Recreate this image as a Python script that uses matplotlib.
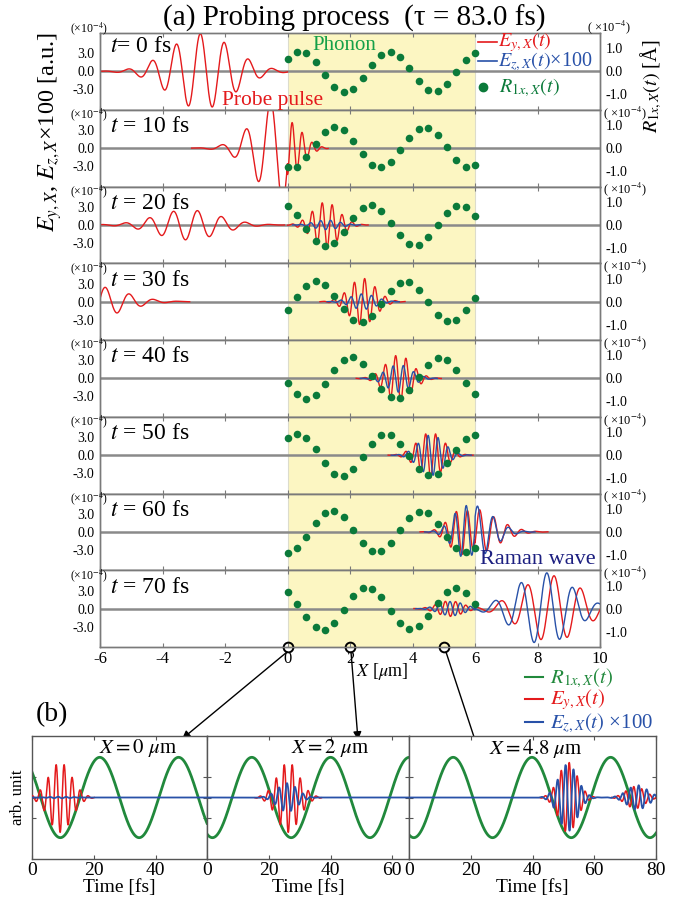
"""Probing process: probe pulse, Raman wave and phonon snapshots + local time traces."""
import numpy as np
import matplotlib

matplotlib.use("Agg")
import matplotlib.pyplot as plt
from matplotlib.lines import Line2D

plt.rcParams["font.family"] = ["Liberation Serif", "DejaVu Serif"]
plt.rcParams["mathtext.fontset"] = "stix"
plt.rcParams["axes.unicode_minus"] = False

# ---------------------------------------------------------------- data -----
T_LABELS = ["$t$= 0 fs", "$t$ = 10 fs", "$t$ = 20 fs", "$t$ = 30 fs",
            "$t$ = 40 fs", "$t$ = 50 fs", "$t$ = 60 fs", "$t$ = 70 fs"]

# phonon displacement samples (x1e-4 A) at the grid points inside the film
PHONON_X = [0.0, 0.3, 0.6, 0.9, 1.2, 1.5, 1.8, 2.1, 2.4, 2.7, 3.0,
            3.3, 3.6, 3.9, 4.2, 4.5, 4.8, 5.1, 5.4, 5.7, 6.0]
PHONON_R = [
    [0.55, 0.86, 0.81, 0.42, -0.14, -0.68, -0.88, -0.75, -0.30, 0.28, 0.70,
     0.86, 0.64, 0.13, -0.41, -0.80, -0.84, -0.54, -0.01, 0.49, 0.81],
    [-0.84, -0.80, -0.39, 0.17, 0.70, 0.91, 0.77, 0.32, -0.26, -0.72, -0.84,
     -0.62, -0.10, 0.46, 0.83, 0.86, 0.55, 0.04, -0.51, -0.80, -0.74],
    [0.80, 0.41, -0.19, -0.70, -0.91, -0.77, -0.29, 0.29, 0.72, 0.87, 0.62,
     0.10, -0.45, -0.83, -0.86, -0.54, 0.01, 0.52, 0.83, 0.77, 0.38],
    [-0.38, 0.19, 0.70, 0.91, 0.72, 0.26, -0.32, -0.78, -0.90, -0.61, -0.09,
     0.46, 0.81, 0.84, 0.52, -0.03, -0.57, -0.86, -0.78, -0.38, 0.16],
    [-0.22, -0.70, -0.91, -0.72, -0.23, 0.36, 0.80, 0.91, 0.64, 0.10, -0.45,
     -0.83, -0.84, -0.51, 0.06, 0.59, 0.87, 0.78, 0.38, -0.19, -0.67],
    [0.75, 0.94, 0.74, 0.25, -0.36, -0.80, -0.91, -0.62, -0.09, 0.49, 0.86,
     0.86, 0.49, -0.04, -0.59, -0.87, -0.80, -0.36, 0.22, 0.71, 0.88],
    [-0.91, -0.72, -0.23, 0.38, 0.83, 0.93, 0.64, 0.09, -0.48, -0.84, -0.84,
     -0.48, 0.09, 0.61, 0.88, 0.80, 0.36, -0.22, -0.68, -0.87, -0.68],
    [0.71, 0.20, -0.38, -0.81, -0.91, -0.62, -0.06, 0.54, 0.88, 0.87, 0.49,
     -0.09, -0.62, -0.90, -0.77, -0.33, 0.25, 0.71, 0.90, 0.68, 0.19],
]

# wave packets read off each snapshot:
# (x_from, x_to, centre, width, amplitude x1e-4, wavelength, crest position)
EY_PACKETS = [
    [(-6, 0, -2.75, 1.00, 6.3, 0.77, -2.79)],
    [(-6, 0, -0.10, 0.85, 9.0, 0.78, -0.55), (0, 1.3, 0.00, 0.45, 4.5, 0.32, 0.15)],
    [(-6, 0, -3.20, 1.00, 2.5, 0.77, -2.88), (0, 6, 1.22, 0.42, 3.8, 0.32, 1.11)],
    [(-6, 0, -6.25, 1.00, 2.6, 0.77, -5.83), (0, 6, 2.40, 0.42, 3.9, 0.33, 2.47)],
    [(0, 6, 3.56, 0.42, 3.9, 0.33, 3.46)],
    [(0, 6, 4.58, 0.42, 3.8, 0.32, 4.42)],
    [(0, 6, 5.60, 0.42, 3.8, 0.36, 5.76), (6, 10, 5.90, 0.75, 3.9, 0.45, 6.15)],
    [(0, 6, 5.20, 0.40, 1.3, 0.33, 5.05), (6, 10, 8.45, 0.95, 5.5, 0.85, 8.53)],
]
EZ_PACKETS = [
    [],
    [],
    [(0, 6, 1.25, 0.40, 0.8, 0.32, 1.38)],
    [(0, 6, 2.42, 0.40, 1.3, 0.33, 2.36)],
    [(0, 6, 3.56, 0.40, 2.3, 0.33, 3.38)],
    [(0, 6, 4.60, 0.40, 3.4, 0.32, 4.50)],
    [(0, 6, 5.70, 0.40, 4.4, 0.36, 5.72), (6, 10, 5.95, 0.60, 4.4, 0.50, 6.08)],
    [(0, 6, 5.25, 0.40, 1.2, 0.33, 5.20), (6, 10, 8.20, 0.90, 6.0, 0.83, 8.30)],
]

# panel (b): local time traces
PROBE_LABELS = [r"$X = 0\ \mu$m", r"$X = 2\ \mu$m", r"$X = 4.8\ \mu$m"]
PROBE_MARK_X = [0.0, 2.0, 5.0]
TIME_MAX = [56.6, 65.4, 80.0]
TIME_TICKS = [[0, 20, 40], [0, 20, 40, 60], [0, 20, 40, 60, 80]]
PHONON_PERIOD = 25.5
PHONON_CREST = [21.9, 14.5, 14.3]
# (centre, width, amplitude, period, crest) in fs
EY_TRACE = [[(9.1, 3.7, 0.85, 2.6, 7.8)],
            [(26.3, 3.6, 0.85, 2.6, 25.0)],
            [(51.5, 3.0, 0.86, 2.6, 51.9), (73.3, 3.0, 0.27, 2.6, 72.8)]]
EZ_TRACE = [[(9.1, 3.7, 0.02, 2.6, 8.4)],
            [(26.0, 3.2, 0.35, 2.6, 25.9)],
            [(51.5, 3.0, 0.82, 2.6, 50.7), (74.0, 3.3, 0.30, 2.6, 74.4)]]

# ---------------------------------------------------------------- style ----
C_RED = "#e41a1c"
C_BLUE = "#2851a8"
C_DOT = "#0b7a3a"
C_GREEN = "#21893c"
C_ZERO = "#8a8a8a"
C_SPINE = "#7a7a7a"
C_FILM = "#fcf6c2"

W, H = 688, 899


def fx(px):
    return px / W


def fy(py):
    return 1 - py / H


def packets(x, plist, floor=0.02):
    y = np.zeros_like(x)
    env = np.zeros_like(x)
    for lo, hi, c, s, a, lam, crest in plist:
        m = (x >= lo) & (x <= hi)
        e = a * np.exp(-(x - c) ** 2 / (2 * s ** 2))
        y[m] += e[m] * np.cos(2 * np.pi * (x[m] - crest) / lam)
        env[m] += e[m]
    return np.where(env > floor, y, np.nan)


def trace(t, plist):
    y = np.zeros_like(t)
    env = np.zeros_like(t)
    for c, s, a, per, crest in plist:
        e = a * np.exp(-(t - c) ** 2 / (2 * s ** 2))
        y += e * np.cos(2 * np.pi * (t - crest) / per)
        env += e
    return y, env


fig = plt.figure(figsize=(W / 100, H / 100), dpi=100)

# ------------------------------------------------------------ panel (a) ----
x = np.linspace(-6, 10, 6000)
top0, ph = 33.0, 76.75
axes_a = []
for i in range(8):
    top = top0 + i * ph
    ax = fig.add_axes([fx(100), fy(top + ph), 500 / W, ph / H])
    axes_a.append(ax)
    ax.set_xlim(-6, 10)
    ax.set_ylim(-6.4, 6.4)
    ax.axvspan(0, 6, color=C_FILM, lw=0, zorder=0)
    ax.axvline(0, color="#dcdccc", lw=0.8, zorder=0.5)
    ax.axvline(6, color="#dcdccc", lw=0.8, zorder=0.5)
    ax.axhline(0, color=C_ZERO, lw=1.8, zorder=1)
    ax.plot(x, packets(x, EY_PACKETS[i]), color=C_RED, lw=1.0, zorder=3)
    if EZ_PACKETS[i]:
        ax.plot(x, packets(x, EZ_PACKETS[i]), color=C_BLUE, lw=1.0, zorder=4)
    ax.set_xticks(np.arange(-6, 11, 2))
    ax.tick_params(axis="x", direction="in", top=True, length=3,
                   color=C_SPINE, labelsize=12, pad=3)
    if i < 7:
        ax.tick_params(axis="x", labelbottom=False)
    ax.set_yticks([-3, 0, 3])
    ax.set_yticklabels(["-3.0", "0.0", "3.0"])
    ax.tick_params(axis="y", length=0, labelsize=10, pad=4)
    for s in ax.spines.values():
        s.set_color(C_SPINE)
        s.set_linewidth(1.0)
    ax.text(0.02, 0.83 if i == 0 else 0.78, T_LABELS[i], transform=ax.transAxes,
            fontsize=17, va="center", ha="left", zorder=6)

    tw = ax.twinx()
    tw.set_ylim(-1.67, 1.67)
    tw.set_yticks([-1, 0, 1])
    tw.set_yticklabels(["-1.0", "0.0", "1.0"])
    tw.tick_params(axis="y", length=0, labelsize=10, pad=4)
    for s in tw.spines.values():
        s.set_color(C_SPINE)
        s.set_linewidth(1.0)
    tw.scatter(PHONON_X, PHONON_R[i], s=30, color=C_DOT, lw=0, zorder=5)

    # exponent markers
    if i == 0:
        fig.text(fx(108), fy(29), "(×10$^{-4}$)", ha="right", va="center", fontsize=8.5)
        fig.text(fx(587), fy(27), "( ×10$^{-4}$)", ha="left", va="center", fontsize=9)
    else:
        fig.text(fx(108), fy(top + 5), "(×10$^{-4}$)", ha="right", va="center", fontsize=8.5)
        fig.text(fx(603), fy(top + 3), "( ×10$^{-4}$)", ha="left", va="center", fontsize=9)

ax_bot = axes_a[-1]
ax_bot.plot(PROBE_MARK_X, [-6.4] * 3, "o", ms=7, mfc="none", mec="k", mew=1.4,
            clip_on=False, zorder=10)

fig.text(fx(354), fy(18), "(a) Probing process  (τ = 83.0 fs)", ha="center",
         va="center", fontsize=21)
fig.text(fx(50), fy(132), "$E_{y,X}$, $E_{z,X}$×100 [a.u.]", rotation=90,
         ha="center", va="center", fontsize=17.5)
fig.text(fx(651), fy(86), "$R_{1x,X}(t)$ [Å]", rotation=90, ha="center",
         va="center", fontsize=14.5)
fig.text(fx(382), fy(672), r"$X$ [$\mu$m]", ha="center", va="center", fontsize=13)

fig.text(fx(312), fy(45), "Phonon", color="#15a048", fontsize=15, ha="left", va="center")
fig.text(fx(222), fy(100), "Probe pulse", color=C_RED, fontsize=15.5, ha="left", va="center")
fig.text(fx(480), fy(559), "Raman wave", color="#1c1f80", fontsize=16, ha="left", va="center")

# legend in panel (a)
fig.add_artist(Line2D([fx(478), fx(497)], [fy(42), fy(42)], color=C_RED, lw=1.2))
fig.text(fx(498), fy(42), "$E_{y,X}(t)$", color=C_RED, fontsize=14.5, ha="left", va="center")
fig.add_artist(Line2D([fx(478), fx(497)], [fy(61), fy(61)], color=C_BLUE, lw=1.2))
fig.text(fx(498), fy(62), "$E_{z,X}(t)$×100", color=C_BLUE, fontsize=14.5, ha="left", va="center")
fig.add_artist(Line2D([fx(483)], [fy(87)], marker="o", ms=6, color=C_DOT, lw=0))
fig.text(fx(499), fy(88), "$R_{1x,X}(t)$", color=C_DOT, fontsize=14.5, ha="left", va="center")

# ------------------------------------------------------------ panel (b) ----
b_edges = [32, 207, 409, 656]
b_label_x = [0.606, 0.61, 0.514]
for j in range(3):
    axb = fig.add_axes([fx(b_edges[j]), fy(859), (b_edges[j + 1] - b_edges[j]) / W,
                        (859 - 736) / H])
    t = np.linspace(0, TIME_MAX[j], 3000)
    green = 0.98 * np.cos(2 * np.pi * (t - PHONON_CREST[j]) / PHONON_PERIOD)
    axb.plot(t, green, color=C_GREEN, lw=2.0, zorder=2)
    ey, env = trace(t, EY_TRACE[j])
    axb.plot(t, np.where(env > 0.01, ey, np.nan), color=C_RED, lw=1.1, zorder=3)
    ez, _ = trace(t, EZ_TRACE[j])
    axb.plot(t, ez, color=C_BLUE, lw=1.3, zorder=4)
    axb.set_xlim(0, TIME_MAX[j])
    axb.set_ylim(-1.5, 1.5)
    axb.set_xticks(TIME_TICKS[j])
    axb.set_yticks([-0.5, 0, 0.5])
    axb.set_yticklabels([])
    axb.tick_params(direction="in", top=True, right=True, length=3,
                    color="#555555", labelsize=14, pad=2)
    for s in axb.spines.values():
        s.set_color("#555555")
        s.set_linewidth(1.0)
    axb.set_xlabel("Time [fs]", fontsize=14, labelpad=0)
    if j == 0:
        axb.set_ylabel("arb. unit", fontsize=12, labelpad=2)
    axb.text(b_label_x[j], 0.9, PROBE_LABELS[j], transform=axb.transAxes,
             ha="center", va="center", fontsize=15)

fig.text(fx(52), fy(715), "(b)", ha="center", va="center", fontsize=20)

# arrows from the probe points to the traces
arrow_from = [(287, 652), (351, 652), (446, 652)]
arrow_to = [(182, 739), (358, 740), (477, 746)]
for (x1, y1), (x2, y2) in zip(arrow_from, arrow_to):
    fig.axes[0].annotate("", xy=(x2, H - y2), xytext=(x1, H - y1),
                         xycoords="figure pixels", textcoords="figure pixels",
                         arrowprops=dict(arrowstyle="-|>", color="k", lw=1.0,
                                         mutation_scale=12, shrinkA=0, shrinkB=0))

# legend for panel (b)
leg = [("$R_{1x,X}(t)$", C_GREEN, 677), ("$E_{y,X}(t)$", C_RED, 699),
       ("$E_{z,X}(t)$ ×100", C_BLUE, 722)]
for txt, col, yy in leg:
    fig.add_artist(Line2D([fx(525), fx(543)], [fy(yy), fy(yy)], color=col, lw=1.5))
    fig.text(fx(550), fy(yy + 1), txt, color=col, fontsize=15, ha="left", va="center")

fig.savefig("out.png", dpi=100, facecolor="white")
